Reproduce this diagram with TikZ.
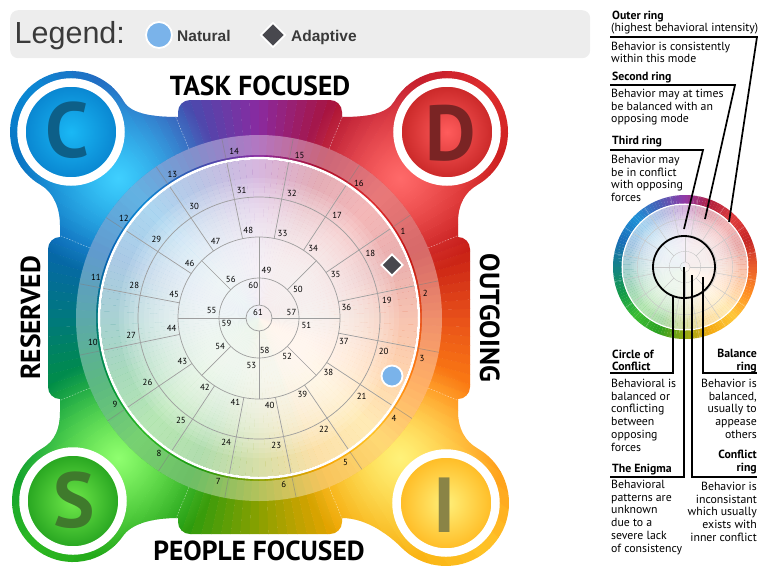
\documentclass[tikz,border=0pt]{standalone}
\usepackage{fontspec}
\setmainfont{PT Sans}
\newfontfamily\legendfont{Liberation Sans}
\usetikzlibrary{shapes.geometric,fadings,positioning}

% colours round the wheel, one every 22.5 degrees
\definecolor{pal0}{HTML}{E8501A}
\definecolor{pal1}{HTML}{C01414}
\definecolor{pal2}{HTML}{DE2E2E}
\definecolor{pal3}{HTML}{AE102C}
\definecolor{pal4}{HTML}{8A2AA0}
\definecolor{pal5}{HTML}{3A52B0}
\definecolor{pal6}{HTML}{0A88D4}
\definecolor{pal7}{HTML}{0862B4}
\definecolor{pal8}{HTML}{00787E}
\definecolor{pal9}{HTML}{00923A}
\definecolor{pal10}{HTML}{2CB822}
\definecolor{pal11}{HTML}{1A9A10}
\definecolor{pal12}{HTML}{8AA000}
\definecolor{pal13}{HTML}{F5A400}
\definecolor{pal14}{HTML}{FFC428}
\definecolor{pal15}{HTML}{FF8410}
\definecolor{pal16}{HTML}{E8501A}

\definecolor{naturalblue}{HTML}{7AB3EA}
\definecolor{adaptgray}{HTML}{48484E}
\definecolor{legendgray}{HTML}{EDEDED}
\definecolor{legendtext}{HTML}{3A3A3A}
\definecolor{glowC}{HTML}{40D0FF}
\definecolor{glowD}{HTML}{FF6A6A}
\definecolor{glowS}{HTML}{90FF70}
\definecolor{glowI}{HTML}{FFF27A}
\definecolor{discCin}{HTML}{1AB8F5}
\definecolor{discCout}{HTML}{0A88D2}
\definecolor{discDin}{HTML}{FF5C5C}
\definecolor{discDout}{HTML}{CC2A2A}
\definecolor{discSin}{HTML}{6FE84A}
\definecolor{discSout}{HTML}{2AA822}
\definecolor{discIin}{HTML}{FFF07A}
\definecolor{discIout}{HTML}{FFBE28}
\definecolor{letterC}{HTML}{0D5F88}
\definecolor{letterD}{HTML}{7A2424}
\definecolor{letterS}{HTML}{3F7A2C}
\definecolor{letterI}{HTML}{8A8446}

\tikzfading[name=glowfade, inner color=transparent!0, outer color=transparent!100]

% 144 thin wedges round the origin: radius, percent of colour
\newcommand\conicwedges[2]{%
  \foreach \wi in {0,...,143}{%
    \pgfmathtruncatemacro\wk{int(\wi/9)}%
    \pgfmathtruncatemacro\wn{\wk+1}%
    \pgfmathtruncatemacro\wf{100-round(100*(\wi-9*\wk+0.5)/9)}%
    \colorlet{wedgecol}{pal\wk!\wf!pal\wn}%
    \fill[wedgecol!#2!white] (0,0) -- (\wi*2.5:#1)
      arc[start angle=\wi*2.5, end angle=\wi*2.5+2.6, radius=#1] -- cycle;
  }}

\begin{document}
\begin{tikzpicture}[
  x=1pt, y=-1pt,
  num/.style={font=\fontsize{8.8}{9}\selectfont, inner sep=0pt},
  gridline/.style={draw=black!38, line width=0.7pt},
  bandline/.style={draw=black!50, draw opacity=0.55, line width=0.7pt},
  bandveil/.style={fill=white, fill opacity=0.36},
  wheelrim/.style={draw=white, line width=2.6pt},
  sidetitle/.style={font=\bfseries\fontsize{27.5}{28}\selectfont, inner sep=0pt, anchor=base},
  lobeletter/.style={font=\bfseries\fontsize{78}{80}\selectfont, inner sep=0pt, anchor=base},
  head/.style={font=\bfseries\fontsize{11.8}{12.7}\selectfont, inner sep=0pt, align=left},
  body/.style={font=\fontsize{11.8}{12.7}\selectfont, inner sep=0pt, align=left},
  leader/.style={draw=black, line width=1.7pt},
  naturalmark/.style={circle, fill=naturalblue, draw=white, line width=1.8pt,
    minimum size=21pt, inner sep=0pt},
  adaptmark/.style={diamond, fill=adaptgray, draw=white, line width=1.8pt,
    minimum size=22pt, inner sep=0pt},
  legendword/.style={font=\legendfont\bfseries\fontsize{15.5}{16}\selectfont,
    text=legendtext, inner sep=0pt, anchor=base west},
  pics/discwheel/.style={code={
    \begin{scope}[yscale=-1]
      \conicwedges{183}{100}
      \fill[bandveil, even odd rule] (0,0) circle (183) (0,0) circle (163);
      \conicwedges{158.5}{34}
      \foreach \r in {140,135,...,55}
        \fill[white, fill opacity=0.1] (0,0) circle (\r);
      \draw[wheelrim] (0,0) circle (159.8);
      \draw[gridline] (0,0) circle (13) (0,0) circle (40) (0,0) circle (81) (0,0) circle (121);
      \foreach \k in {0,...,15}
        \draw[gridline] (11.7+22.5*\k:81) -- (11.7+22.5*\k:158.5);
      \foreach \k in {0,...,15}
        \draw[bandline] (11.7+22.5*\k:161.5) -- (11.7+22.5*\k:183);
      \foreach \k in {0,...,7}
        \draw[gridline] (45*\k:40) -- (45*\k:81);
      \foreach \k in {0,...,3}
        \draw[gridline] (90*\k:13) -- (90*\k:40);
    \end{scope}
  }}
]
\useasboundingbox (0,0) rectangle (772,582);

%-----------------------------
% Legend
%-----------------------------
\node[fill=legendgray, rounded corners=8pt, minimum width=580pt, minimum height=48pt,
  anchor=north west] (legendbox) at (10,10) {};
\node[font=\legendfont\fontsize{30.5}{32}\selectfont, text=legendtext, inner sep=0pt,
  anchor=base west] (legendlabel) at (14.5,43) {Legend:};
\node[naturalmark, minimum size=26pt] (legnatural) at (159,35) {};
\node[legendword] (legnaturaltext) at (177,41) {Natural};
\node[adaptmark, minimum size=25pt] (legadaptive) at (273,35) {};
\node[legendword] (legadaptivetext) at (291,41) {Adaptive};

%-----------------------------
% Coloured backdrop
%-----------------------------
\begin{scope}
  \clip (178,117) -- (178,112) arc[start angle=180, end angle=270, radius=12]
    -- (330,100) arc[start angle=270, end angle=360, radius=12]
    -- (342,117) .. controls (365,117) and (386.7,114.5) .. (394.2,101.5)
    arc[start angle=210, end angle=420, radius=61]
    .. controls (464.5,192.3) and (458,205) .. (458,222)
    -- (458,237) arc[start angle=270, end angle=360, radius=12]
    -- (470,387) arc[start angle=0, end angle=90, radius=12]
    -- (458,412) .. controls (458,428) and (464.5,440.9) .. (477.5,448.4)
    arc[start angle=-60, end angle=135, radius=63]
    .. controls (390.9,536.9) and (368,518) .. (342,518)
    -- (342,522) arc[start angle=0, end angle=90, radius=12]
    -- (190,534) arc[start angle=90, end angle=180, radius=12]
    -- (178,518) .. controls (152,518) and (131.6,523.7) .. (123,536)
    arc[start angle=35, end angle=240, radius=61]
    .. controls (55.5,440.7) and (60,428) .. (60,412)
    -- (60,399) arc[start angle=90, end angle=180, radius=12]
    -- (48,249) arc[start angle=180, end angle=270, radius=12]
    -- (60,225) .. controls (60,208) and (53.5,192.3) .. (40.5,184.8)
    arc[start angle=120, end angle=330, radius=61]
    .. controls (131.3,114.5) and (155,117) .. (178,117) -- cycle;
  \begin{scope}[shift={(259,318)}, yscale=-1]
    \conicwedges{340}{100}
  \end{scope}
  \fill[glowC, path fading=glowfade] (118,178) circle (100);
  \fill[glowD, path fading=glowfade] (400,178) circle (100);
  \fill[glowS, path fading=glowfade] (118,458) circle (100);
  \fill[glowI, path fading=glowfade] (400,458) circle (100);
  \begin{scope}[shift={(259,318)}, yscale=-1]
    \foreach \d in {22.5,67.5,...,337.5}
      \draw[white, draw opacity=0.55, line width=0.5pt, dash pattern=on 1.5pt off 1.5pt]
        (\d:183) -- (\d:240);
  \end{scope}
\end{scope}

%-----------------------------
% Corner letters
%-----------------------------
\shade[inner color=discCin, outer color=discCout] (71,132) circle (45);
\draw[white, line width=8.5pt] (71,132) circle (49.5);
\node[lobeletter, text=letterC] (cletter) at (67,157) {C};
\shade[inner color=discDin, outer color=discDout] (447,132) circle (45);
\draw[white, line width=8.5pt] (447,132) circle (49.5);
\node[lobeletter, text=letterD] (dletter) at (451,160) {D};
\shade[inner color=discSin, outer color=discSout] (73,501) circle (45);
\draw[white, line width=8.5pt] (73,501) circle (49.5);
\node[lobeletter, text=letterS] (sletter) at (74,527) {S};
\shade[inner color=discIin, outer color=discIout] (446,503) circle (45);
\draw[white, line width=8.5pt] (446,503) circle (49.5);
\node[lobeletter, text=letterI] (iletter) at (445,532) {I};

%-----------------------------
% Main wheel
%-----------------------------
\pic at (259,318) {discwheel};

\begin{scope}[shift={(259,318)}, yscale=-1]
  \foreach \k in {1,...,16}
    \node[num] (n\k) at ({31-22.5*(\k-1)}:168) {\k};
  \foreach \lab [count=\i from 0] in {17,...,32}
    \node[num] (n\lab) at ({52.7-22.5*\i}:129) {\lab};
  \foreach \lab [count=\i from 0] in {33,...,48}
    \node[num] (n\lab) at ({74.5-22.5*\i}:88) {\lab};
  \foreach \lab [count=\i from 0] in {49,...,56}
    \node[num] (n\lab) at ({81-45*\i}:48) {\lab};
  \foreach \lab [count=\i from 0] in {57,...,60}
    \node[num] (n\lab) at ({10-90*\i}:33) {\lab};
  \node[num] (n61) at (-1,6) {61};
\end{scope}

\node[adaptmark] (adaptive) at (392,265) {};
\node[naturalmark] (natural) at (392,376) {};

%-----------------------------
% Side titles
%-----------------------------
\node[sidetitle] (task) at (260,95) {TASK FOCUSED};
\node[sidetitle] (people) at (259,560) {PEOPLE FOCUSED};
\node[sidetitle, rotate=90] (reserved) at (40,318) {RESERVED};
\node[sidetitle, rotate=-90] (outgoing) at (480,318) {OUTGOING};

%-----------------------------
% Key on the right
%-----------------------------
\pic[scale=0.3934, gridline/.style={draw=black!22, line width=0.4pt},
  bandline/.style={draw=white, draw opacity=0.4, line width=0.4pt},
  bandveil/.style={fill=white, fill opacity=0.08},
  wheelrim/.style={draw=white, line width=1.3pt}] at (685,267) {discwheel};
\node[circle, draw=black, line width=1.8pt, minimum size=62pt, inner sep=0pt] (conflictcircle) at (684,267) {};

\node[head, anchor=base west] (outerhead) at (612,19) {Outer ring};
\node[body, anchor=base west] (outersub) at (611,31.5) {(highest behavioral intensity)};
\node[body, anchor=north west] (outertext) at (611,41.5) {Behavior is consistently\\within this mode};
\node[head, anchor=base west] (secondhead) at (612,80) {Second ring};
\node[body, anchor=north west] (secondtext) at (611,89) {Behavior may at times\\be balanced with an\\opposing mode};
\node[head, anchor=base west] (thirdhead) at (612,144) {Third ring};
\node[body, anchor=north west] (thirdtext) at (611,155) {Behavior may\\be in conflict\\with opposing\\forces};

\node[head, anchor=north west] (cochead) at (612,349.5) {Circle of\\Conflict};
\node[body, anchor=north west] (cocbody) at (611,379) {Behavioral is\\balanced or\\conflicting\\between\\opposing\\forces};
\node[head, anchor=base west] (enigmahead) at (612,472) {The Enigma};
\node[body, anchor=north west] (enigmabody) at (611,480) {Behavioral\\patterns are\\unknown\\due to a\\severe lack\\of consistency};
\node[head, anchor=north east, align=right] (balancehead) at (757,349) {Balance\\ring};
\node[body, anchor=north east, align=right] (balancebody) at (757,379) {Behavior is\\balanced,\\usually to\\appease\\others};
\node[head, anchor=north east, align=right] (conflicthead) at (757,450) {Conflict\\ring};
\node[body, anchor=north east, align=right] (conflictbody) at (757,482) {Behavior is\\inconsistant\\which usually\\exists with\\inner conflict};

\coordinate (outerrule) at (610,37);
\coordinate (outerbend) at (757,37);
\coordinate (outertip) at (729,222);
\coordinate (secondrule) at (610,85);
\coordinate (secondbend) at (735,85);
\coordinate (secondtip) at (705,219);
\coordinate (thirdrule) at (610,150);
\coordinate (thirdbend) at (703,150);
\coordinate (thirdtip) at (684,229);
\draw[leader] (outerrule) -- (outerbend) -- (outertip);
\draw[leader] (secondrule) -- (secondbend) -- (secondtip);
\draw[leader] (thirdrule) -- (thirdbend) -- (thirdtip);

\coordinate (coctip) at (673,296);
\coordinate (cocrule) at (610,373);
\coordinate (enigmatip) at (684,267);
\coordinate (enigmarule) at (610,477);
\coordinate (conflicttip) at (692,275);
\coordinate (conflictrule) at (757,477);
\coordinate (balancetip) at (703,277);
\coordinate (balancerule) at (757,373);
\draw[leader] (coctip) |- (cocrule);
\draw[leader] (enigmatip) |- (enigmarule);
\draw[leader] (conflicttip) |- (conflictrule);
\draw[leader] (balancetip) |- (balancerule);

\end{tikzpicture}
\end{document}
